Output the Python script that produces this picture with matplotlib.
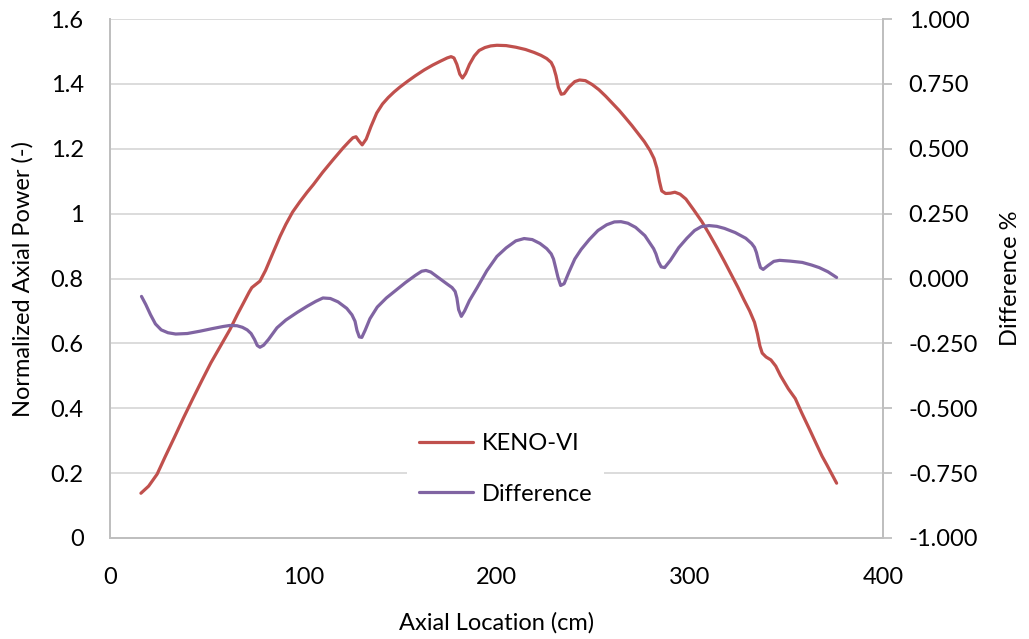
import numpy as np
import matplotlib.pyplot as plt

plt.rcParams['font.family'] = ['Lato', 'DejaVu Sans']

# axial power profile, KENO-VI
keno_x = [16, 20, 24.4, 28.5, 33.3, 38, 42.9, 47.5, 52.2, 57, 62.1, 66, 69.1, 72,
          73.4, 75.5, 77.6, 80.5, 84.4, 88, 91, 94.5, 98.3, 102, 105.3, 110, 115.4,
          120.7, 124, 125.7, 127.3, 128.7, 130.5, 132.6, 135, 138, 141, 144, 147,
          150, 154, 158, 162.6, 167, 171, 174.5, 176.5, 178, 179.5, 181, 182.4, 184,
          186, 188.5, 191, 194, 197, 200.2, 205, 210, 215, 219.4, 223, 226, 228.3,
          229.6, 230.8, 232, 233.5, 235, 237.5, 240.5, 243, 246, 249.5, 253, 256.5,
          260, 263.5, 266.5, 270, 273, 276.5, 279.4, 281.5, 283, 284.3, 285.5,
          287.5, 290, 292.3, 295, 298, 302, 306.3, 310, 314, 318, 321.5, 325, 328,
          331, 333.5, 335, 336.3, 337.5, 339.5, 342, 344.5, 347, 351, 354.6, 358,
          362, 365.5, 368.5, 371, 373.5, 376]
keno_y = [0.138, 0.16, 0.197, 0.25, 0.31, 0.37, 0.43, 0.485, 0.54, 0.59, 0.643, 0.69,
          0.725, 0.758, 0.772, 0.782, 0.792, 0.825, 0.88, 0.93, 0.967, 1.005, 1.037,
          1.066, 1.09, 1.127, 1.166, 1.203, 1.224, 1.234, 1.237, 1.225, 1.212, 1.23,
          1.268, 1.31, 1.338, 1.358, 1.375, 1.39, 1.408, 1.425, 1.443, 1.458, 1.47,
          1.48, 1.484, 1.48, 1.46, 1.43, 1.418, 1.432, 1.46, 1.486, 1.503, 1.512,
          1.517, 1.519, 1.518, 1.513, 1.506, 1.497, 1.488, 1.478, 1.466, 1.45,
          1.425, 1.39, 1.368, 1.37, 1.39, 1.407, 1.412, 1.41, 1.398, 1.382, 1.362,
          1.34, 1.318, 1.297, 1.272, 1.249, 1.222, 1.195, 1.17, 1.14, 1.1, 1.07,
          1.062, 1.063, 1.066, 1.06, 1.045, 1.012, 0.975, 0.938, 0.896, 0.852, 0.812,
          0.772, 0.735, 0.7, 0.665, 0.63, 0.592, 0.57, 0.558, 0.549, 0.53, 0.5,
          0.46, 0.43, 0.385, 0.335, 0.29, 0.252, 0.225, 0.197, 0.169]

# relative difference in percent
diff_x = [16.3, 18.5, 21, 23.5, 26.5, 30, 34, 40, 46.6, 53, 58.5, 62, 65.7, 68.5,
          71, 73, 74.8, 76.2, 77.6, 79.5, 82, 86.4, 91, 97, 102, 106.5, 110.2,
          114, 118, 122.5, 125.2, 126.8, 127.8, 129, 130.3, 132, 134.5, 138.3,
          143, 148, 153, 158, 161.3, 163.5, 166, 170, 174.2, 177, 178.6, 179.5,
          180.4, 181.8, 183.5, 186, 190, 195, 200.2, 205, 210, 214.3, 218.5, 222.5,
          226, 228.3, 229.5, 230.5, 231.8, 233.2, 235, 237.5, 240.5, 243.8, 248,
          252.5, 257, 261, 264.4, 268, 272, 276.8, 279.5, 281.3, 282.5, 283.8,
          285.2, 287, 290, 294.3, 298.5, 302.5, 306, 310, 314, 318, 323.5, 329,
          332, 333.5, 334.5, 335.5, 336.6, 338, 340.5, 343.5, 346.5, 352, 358.2,
          363, 367, 371.5, 376]
diff_y = [-0.069, -0.1, -0.14, -0.175, -0.198, -0.209, -0.214, -0.212, -0.203,
          -0.193, -0.185, -0.181, -0.182, -0.188, -0.198, -0.212, -0.235, -0.258,
          -0.265, -0.257, -0.235, -0.19, -0.16, -0.13, -0.107, -0.088, -0.075,
          -0.077, -0.09, -0.115, -0.14, -0.165, -0.2, -0.225, -0.227, -0.2, -0.155,
          -0.11, -0.075, -0.045, -0.015, 0.012, 0.028, 0.031, 0.025, 0.003, -0.02,
          -0.035, -0.05, -0.075, -0.12, -0.146, -0.125, -0.085, -0.035, 0.03, 0.085,
          0.118, 0.145, 0.154, 0.15, 0.135, 0.115, 0.095, 0.075, 0.045, 0.005,
          -0.027, -0.02, 0.025, 0.075, 0.112, 0.15, 0.185, 0.207, 0.218, 0.219,
          0.213, 0.197, 0.165, 0.135, 0.115, 0.095, 0.065, 0.045, 0.042, 0.07, 0.119,
          0.155, 0.185, 0.2, 0.204, 0.201, 0.193, 0.177, 0.155, 0.135, 0.12, 0.1,
          0.07, 0.042, 0.035, 0.05, 0.066, 0.07, 0.067, 0.062, 0.052, 0.042, 0.026,
          0.004]

red = '#C0504D'
purple = '#8064A2'
grid_c = '#D9D9D9'
spine_c = '#BFBFBF'
fs = 17

fig = plt.figure(figsize=(10.29, 6.39), dpi=100)
ax = fig.add_axes([110 / 1029, 1 - 538 / 639, 773 / 1029, 519 / 639])
ax2 = ax.twinx()

line_kw = dict(lw=2.3, solid_capstyle='round', solid_joinstyle='round')
l1, = ax.plot(keno_x, keno_y, color=red, label='KENO-VI', **line_kw)
l2, = ax2.plot(diff_x, diff_y, color=purple, label='Difference', **line_kw)

ax.set_xlim(0, 400)
ax.set_ylim(0, 1.6)
ax2.set_ylim(-1, 1)
ax.set_xticks([0, 100, 200, 300, 400])
ax.set_yticks(np.arange(0, 1.61, 0.2))
ax.set_yticklabels(['0', '0.2', '0.4', '0.6', '0.8', '1', '1.2', '1.4', '1.6'])
ax2.set_yticks(np.arange(-1, 1.01, 0.25))
ax2.set_yticklabels(['%.3f' % v for v in np.arange(-1, 1.01, 0.25)])

ax.yaxis.grid(True, color=grid_c, lw=1.3)
ax.set_axisbelow(True)

for a in (ax, ax2):
    for s in a.spines.values():
        s.set_color(spine_c)
        s.set_linewidth(1.3)
    a.spines['top'].set_visible(False)

ax.tick_params(axis='y', length=0, pad=19, labelsize=fs)
ax.tick_params(axis='x', length=0, pad=21, labelsize=fs)
ax2.tick_params(axis='y', length=6.5, width=1.3, color=spine_c, pad=12, labelsize=fs)

ax.set_xlabel('Axial Location (cm)', fontsize=fs, labelpad=17)
ax.set_ylabel('Normalized Axial Power (-)', fontsize=fs, labelpad=12)
ax2.set_ylabel('Difference %', fontsize=fs, labelpad=16)

leg = ax2.legend(handles=[l1, l2], loc='center', bbox_to_anchor=(0.512, 0.133),
                 fontsize=fs, frameon=True, fancybox=False, handlelength=2.3,
                 handletextpad=0.35, labelspacing=1.25, borderpad=0.5)
leg.get_frame().set_edgecolor('none')
leg.get_frame().set_facecolor('white')
leg.get_frame().set_alpha(1)

fig.savefig('out.png', dpi=100)
